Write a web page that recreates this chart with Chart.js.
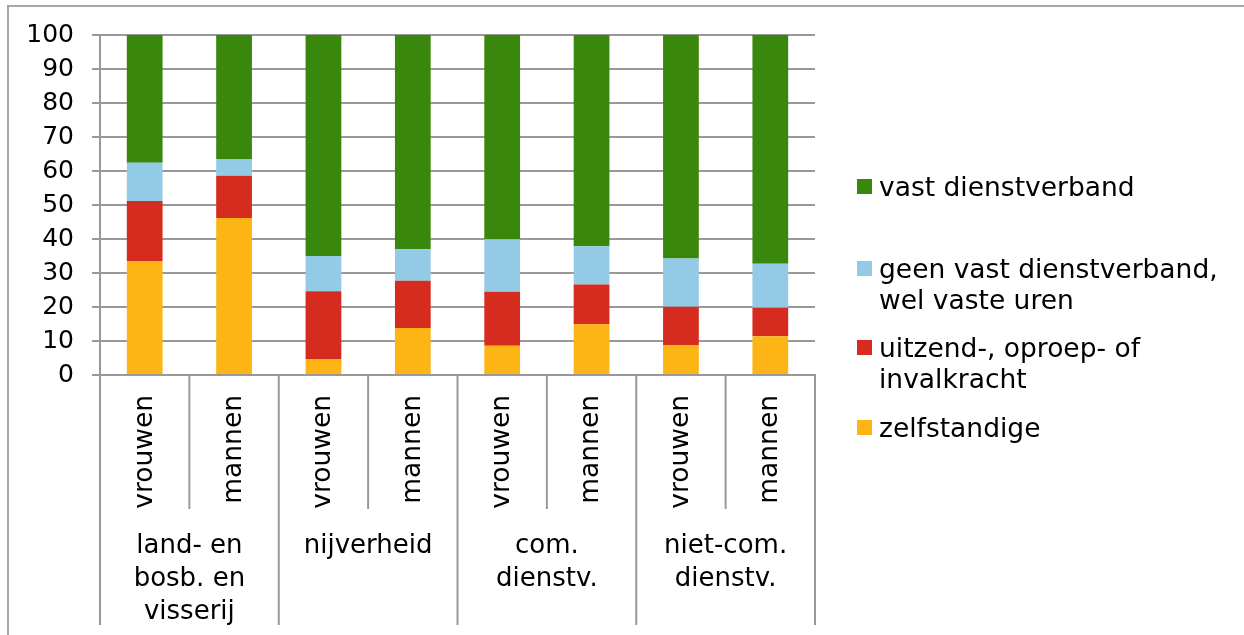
<!DOCTYPE html>
<html lang="nl">
<head>
  <meta charset="UTF-8">
  <title>Arbeidsrelatie per sector</title>
  <script src="https://cdn.jsdelivr.net/npm/chart.js"></script>
  <style>
    html, body { margin: 0; background: #fff; overflow: hidden; }
    #wrap { position: relative; width: 1244px; height: 635px; overflow: hidden; font-family: "DejaVu Sans", Verdana, sans-serif; }
    #chart { position: absolute; left: 0; top: 0; }
    .leg { position: absolute; left: 857px; font-size: 26.5px; line-height: 31px; color: #000; }
    .leg span.box { position: absolute; left: 0; top: 8px; width: 15px; height: 15px; }
    .leg span.txt { display: block; margin-left: 22px; white-space: pre; }
  </style>
</head>
<body>
  <div id="wrap">
    <canvas id="chart" width="1244" height="635"></canvas>
    <div id="legend"></div>
  </div>
  <script>
    // categories: sex within sector
    const barLabels = ['vrouwen', 'mannen', 'vrouwen', 'mannen', 'vrouwen', 'mannen', 'vrouwen', 'mannen'];
    const sectorLabels = [
      ['land- en', 'bosb. en', 'visserij'],
      ['nijverheid'],
      ['com.', 'dienstv.'],
      ['niet-com.', 'dienstv.']
    ];

    // percentages (stacked from the bottom up)
    const zelfstandige = [33.5, 46.2, 4.7, 13.8, 8.6, 14.9, 8.8, 11.4];
    const uitzendOproep = [17.7, 12.4, 19.9, 13.9, 15.9, 11.7, 11.3, 8.4];
    const geenVastWelUren = [11.2, 4.9, 10.4, 9.3, 15.4, 11.3, 14.2, 12.9];
    const vastDienstverband = [37.6, 36.5, 65.0, 63.0, 60.1, 62.1, 65.7, 67.3];

    const yTicks = [0, 10, 20, 30, 40, 50, 60, 70, 80, 90, 100];

    const FONT = '"DejaVu Sans", Verdana, sans-serif';
    const GRID = '#999999';

    // outer frame: only left and top edges are visible in the source
    const frame = {
      id: 'frame',
      beforeDraw(chart) {
        const ctx = chart.ctx;
        ctx.save();
        ctx.strokeStyle = '#a6a6a6';
        ctx.lineWidth = 2;
        ctx.beginPath();
        ctx.moveTo(8, chart.height);
        ctx.lineTo(8, 6);
        ctx.lineTo(chart.width, 6);
        ctx.stroke();
        ctx.restore();
      }
    };

    const sectorAxis = {
      id: 'sectorAxis',
      afterDraw(chart) {
        const ctx = chart.ctx;
        const x = chart.scales.x;
        const bottom = chart.chartArea.bottom;
        const half = (x.getPixelForValue(1) - x.getPixelForValue(0)) / 2;
        ctx.save();
        ctx.strokeStyle = GRID;
        ctx.lineWidth = 2;
        for (let i = 0; i <= barLabels.length; i++) {
          const px = i < barLabels.length ? x.getPixelForValue(i) - half : x.getPixelForValue(i - 1) + half;
          ctx.beginPath();
          ctx.moveTo(px, bottom);
          ctx.lineTo(px, i % 2 === 0 ? 625 : 509);
          ctx.stroke();
        }
        ctx.fillStyle = '#000';
        ctx.font = '26px ' + FONT;
        ctx.textAlign = 'center';
        ctx.textBaseline = 'middle';
        sectorLabels.forEach((lines, g) => {
          const cx = (x.getPixelForValue(2 * g) + x.getPixelForValue(2 * g + 1)) / 2;
          lines.forEach((t, k) => ctx.fillText(t, cx, 546 + k * 33));
        });
        ctx.restore();
      }
    };

    const chart = new Chart(document.getElementById('chart'), {
      type: 'bar',
      data: {
        labels: barLabels,
        datasets: [
          { label: 'zelfstandige', data: zelfstandige, backgroundColor: '#FDB515' },
          { label: 'uitzend-, oproep- of\ninvalkracht', data: uitzendOproep, backgroundColor: '#D62B1F' },
          { label: 'geen vast dienstverband,\nwel vaste uren', data: geenVastWelUren, backgroundColor: '#93CAE6' },
          { label: 'vast dienstverband', data: vastDienstverband, backgroundColor: '#3A870E' }
        ]
      },
      options: {
        responsive: false,
        animation: false,
        devicePixelRatio: 1,
        layout: { padding: { top: 35, right: 429, bottom: 0, left: 0 } },
        datasets: { bar: { barPercentage: 0.4, categoryPercentage: 1.0 } },
        plugins: { legend: { display: false }, tooltip: { enabled: false } },
        scales: {
          x: {
            stacked: true,
            grid: { display: false },
            border: { display: true, color: GRID, width: 2 },
            ticks: {
              autoSkip: false, minRotation: 90, maxRotation: 90, padding: 12,
              color: '#000', font: { family: FONT, size: 26.5 }
            },
            afterFit: s => { s.height = 260; }
          },
          y: {
            stacked: true,
            min: 0, max: 100,
            afterBuildTicks: s => { s.ticks = yTicks.map(v => ({ value: v })); },
            grid: { color: GRID, lineWidth: 2, tickLength: 8 },
            border: { display: true, color: GRID, width: 2 },
            ticks: { padding: 18, color: '#000', font: { family: FONT, size: 25 } },
            afterFit: s => { s.width = 100; }
          }
        }
      },
      plugins: [frame, sectorAxis]
    });

    // legend on the right, top entry = top of the stack
    const legendTops = [171, 253, 332, 412];
    const legendDiv = document.getElementById('legend');
    chart.data.datasets.slice().reverse().forEach((ds, i) => {
      const item = document.createElement('div');
      item.className = 'leg';
      item.style.top = legendTops[i] + 'px';
      item.innerHTML = '<span class="box" style="background:' + ds.backgroundColor + '"></span><span class="txt"></span>';
      item.querySelector('.txt').textContent = ds.label;
      legendDiv.appendChild(item);
    });
  </script>
</body>
</html>
